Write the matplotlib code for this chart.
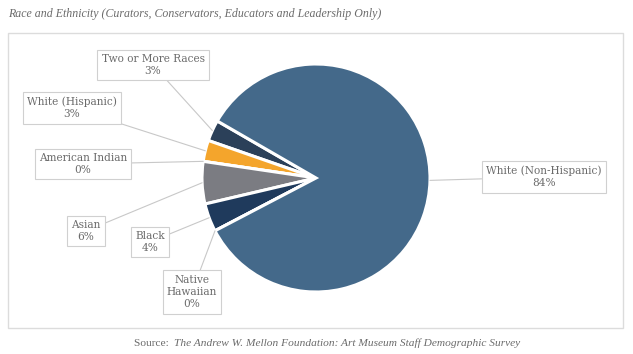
import matplotlib.pyplot as plt
from matplotlib.patches import Rectangle
import numpy as np

# data (in drawing order counter-clockwise)
labels = ["Two or More Races", "White (Hispanic)", "American Indian", "Asian",
          "Black", "Native\nHawaiian", "White (Non-Hispanic)"]
shares = [3, 3, 0, 6, 4, 0, 84]
colors = ["#2b4059", "#f4a52c", "#8a8a8a", "#7b7c82", "#1f3a5c", "#2a4a6e", "#44698a"]

# label box centres in pixel space (layout only)
box_pos = [(153, 289), (72, 246), (83, 190), (86, 123), (150, 112), (192, 62), (544, 177)]

W, H = 633, 354
fig = plt.figure(figsize=(W / 100, H / 100), dpi=100)
ax = fig.add_axes([0, 0, 1, 1])

TXT = "#6b6b6b"
serif = ["DejaVu Serif"]
lib = ["Liberation Serif", "DejaVu Serif"]

fig.text(8, H - 14, "Race and Ethnicity (Curators, Conservators, Educators and Leadership Only)",
         transform=None, fontsize=8.6, style="italic", color=TXT, family=lib, va="center")

center = (316, 176)
radius = 114
wedges, _ = ax.pie(shares, colors=colors, startangle=150, counterclock=True,
                   center=center, radius=radius, frame=True,
                   wedgeprops=dict(edgecolor="white", linewidth=2.2))
ax.set_xlim(0, W)
ax.set_ylim(0, H)
ax.set_aspect("equal")
ax.axis("off")

# frame
ax.add_patch(Rectangle((8, H - 328), 615, 295, fill=False, edgecolor="#dcdcdc", lw=1.0))

for w, lab, val, (bx, by) in zip(wedges, labels, shares, box_pos):
    mid = np.deg2rad((w.theta1 + w.theta2) / 2)
    px = center[0] + radius * np.cos(mid)
    py = center[1] + radius * np.sin(mid)
    ax.annotate(f"{lab}\n{val}%", xy=(px, py), xytext=(bx, by),
                ha="center", va="center", fontsize=7.6, color=TXT, family=serif,
                linespacing=1.3,
                bbox=dict(boxstyle="square,pad=0.4", fc="white", ec="#d0d0d0", lw=0.8),
                arrowprops=dict(arrowstyle="-", color="#c8c8c8", lw=0.8,
                                shrinkA=0, shrinkB=0))

# source line: regular "Source:" followed by italic title
fig.canvas.draw()
renderer = fig.canvas.get_renderer()
t1 = fig.text(134, H - 343, "Source: ", transform=None, fontsize=8.2, color=TXT,
              family=lib, va="center")
x_end = t1.get_window_extent(renderer).x1
fig.text(x_end + 2, H - 343,
         "The Andrew W. Mellon Foundation: Art Museum Staff Demographic Survey",
         transform=None, fontsize=8.2, style="italic", color=TXT, family=lib, va="center")

fig.savefig("out.png", dpi=100, facecolor="white")
